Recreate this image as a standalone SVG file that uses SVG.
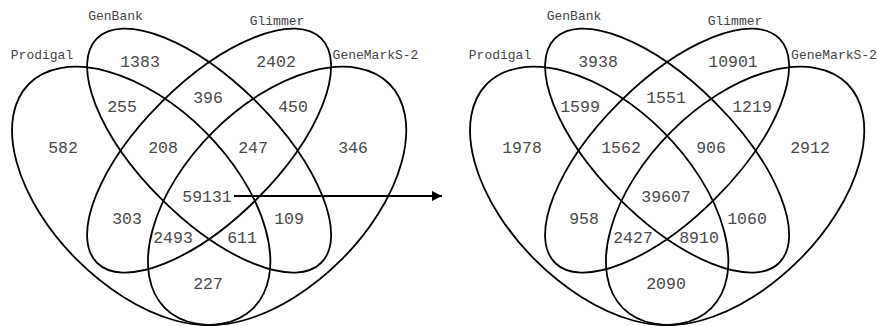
<svg xmlns="http://www.w3.org/2000/svg" width="878" height="326" viewBox="0 0 878 326">
  <style>
    .set { fill: none; stroke: #000; stroke-width: 1.8; }
    .num { font-family: "Liberation Mono", "DejaVu Sans Mono", monospace; font-size: 16.5px; fill: #4a4a4a; text-anchor: middle; }
    .lbl { font-family: "Liberation Mono", "DejaVu Sans Mono", monospace; font-size: 13px; fill: #444; text-anchor: middle; }
    .conn { stroke: #000; stroke-width: 2; fill: none; }
  </style>
  <defs>
    <marker id="head" markerWidth="10" markerHeight="10" refX="10" refY="5" orient="auto" markerUnits="userSpaceOnUse">
      <path d="M0,0 L10,5 L0,10 Z" fill="#000"/>
    </marker>
  </defs>
  <rect width="878" height="326" fill="#fff"/>

  <!-- Four-set Venn: before filtering -->
  <g id="venn-before">
    <g id="before-prodigal">
      <ellipse class="set" cx="141.2" cy="195.9" rx="158.6" ry="90.6" transform="rotate(45 141.2 195.9)"/>
      <text class="lbl" x="42" y="59">Prodigal</text>
    </g>
    <g id="before-genbank">
      <ellipse class="set" cx="209.1" cy="150.6" rx="158.6" ry="68" transform="rotate(45 209.1 150.6)"/>
      <text class="lbl" x="115.5" y="20">GenBank</text>
    </g>
    <g id="before-glimmer">
      <ellipse class="set" cx="209.1" cy="150.6" rx="158.6" ry="68" transform="rotate(-45 209.1 150.6)"/>
      <text class="lbl" x="277" y="25">Glimmer</text>
    </g>
    <g id="before-genemarks2">
      <ellipse class="set" cx="277.1" cy="195.9" rx="158.6" ry="90.6" transform="rotate(-45 277.1 195.9)"/>
      <text class="lbl" x="375.5" y="59">GeneMarkS-2</text>
    </g>
    <g id="before-counts">
      <text class="num" x="140" y="67">1383</text>
      <text class="num" x="276" y="67">2402</text>
      <text class="num" x="122" y="112">255</text>
      <text class="num" x="208" y="103">396</text>
      <text class="num" x="293" y="112">450</text>
      <text class="num" x="63" y="153">582</text>
      <text class="num" x="163" y="153">208</text>
      <text class="num" x="253" y="153">247</text>
      <text class="num" x="353" y="153">346</text>
      <text class="num" x="207" y="202">59131</text>
      <text class="num" x="127" y="224">303</text>
      <text class="num" x="289" y="224">109</text>
      <text class="num" x="173" y="243">2493</text>
      <text class="num" x="242" y="243">611</text>
      <text class="num" x="208" y="289">227</text>
    </g>
  </g>

  <!-- Four-set Venn: after filtering -->
  <g id="venn-after">
    <g id="after-prodigal">
      <ellipse class="set" cx="599.2" cy="195.9" rx="158.6" ry="90.6" transform="rotate(45 599.2 195.9)"/>
      <text class="lbl" x="500" y="59">Prodigal</text>
    </g>
    <g id="after-genbank">
      <ellipse class="set" cx="667.1" cy="150.6" rx="158.6" ry="68" transform="rotate(45 667.1 150.6)"/>
      <text class="lbl" x="574" y="20">GenBank</text>
    </g>
    <g id="after-glimmer">
      <ellipse class="set" cx="667.1" cy="150.6" rx="158.6" ry="68" transform="rotate(-45 667.1 150.6)"/>
      <text class="lbl" x="735" y="25">Glimmer</text>
    </g>
    <g id="after-genemarks2">
      <ellipse class="set" cx="735.1" cy="195.9" rx="158.6" ry="90.6" transform="rotate(-45 735.1 195.9)"/>
      <text class="lbl" x="834" y="59">GeneMarkS-2</text>
    </g>
    <g id="after-counts">
      <text class="num" x="598" y="67">3938</text>
      <text class="num" x="733" y="67">10901</text>
      <text class="num" x="580" y="112">1599</text>
      <text class="num" x="666" y="103">1551</text>
      <text class="num" x="752" y="112">1219</text>
      <text class="num" x="522" y="153">1978</text>
      <text class="num" x="621" y="153">1562</text>
      <text class="num" x="711" y="153">906</text>
      <text class="num" x="810" y="153">2912</text>
      <text class="num" x="666" y="202">39607</text>
      <text class="num" x="584" y="224">958</text>
      <text class="num" x="747" y="224">1060</text>
      <text class="num" x="633" y="243">2427</text>
      <text class="num" x="699" y="243">8910</text>
      <text class="num" x="666" y="289">2090</text>
    </g>
  </g>

  <!-- Connector from the shared core count to the filtered diagram -->
  <g id="connectors">
    <line class="conn" x1="234" y1="196" x2="442" y2="196" marker-end="url(#head)"/>
  </g>
</svg>
